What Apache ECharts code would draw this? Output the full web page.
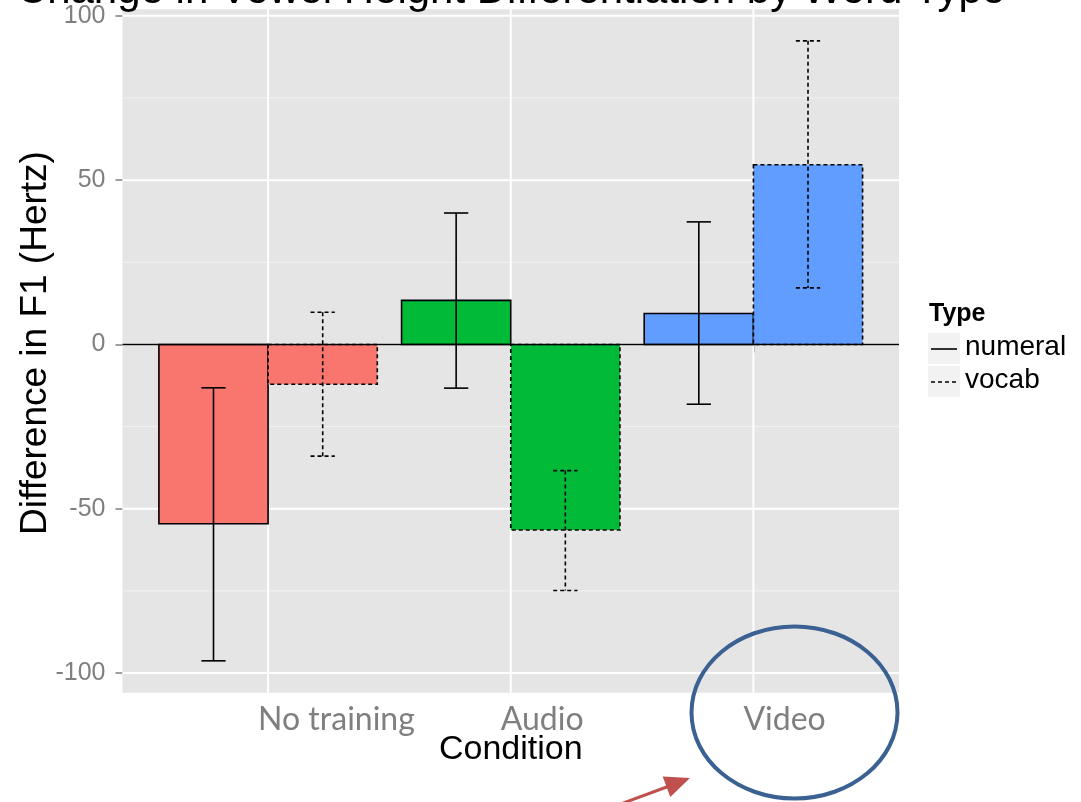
<!DOCTYPE html>
<html><head><meta charset="utf-8">
<script src="https://cdn.jsdelivr.net/npm/echarts@6/dist/echarts.min.js"></script>
<style>html,body{margin:0;padding:0;background:#fff}#c{width:1081px;height:802px}</style>
</head><body><div id="c"></div>
<script>
// ---- data ----
const conditions = ['No training', 'Audio', 'Video'];
const types = ['numeral', 'vocab'];
const numeralMean = [-54.6, 13.4, 9.4];
const numeralLow  = [-96.3, -13.3, -18.2];
const numeralHigh = [-13.2, 40.0, 37.3];
const vocabMean   = [-12.1, -56.5, 54.7];
const vocabLow    = [-34.0, -74.9, 17.2];
const vocabHigh   = [9.8, -38.4, 92.4];
const yTicks = [-100, -50, 0, 50, 100];
const yMinor = [-75, -25, 25, 75];
const xTicks = [1, 2, 3];
const titleText = 'Change in Vowel Height Differentiation by Word Type';
const xTitle = 'Condition';
const yTitle = 'Difference in F1 (Hertz)';
const legendTitle = 'Type';

// ---- style ----
const condColors = ['#F8766D', '#00BA38', '#619CFF'];
const DODGE = 0.45, CAP = 0.05;
const SANS = '"Liberation Sans", Arial, Helvetica, sans-serif';

const barData = [];
conditions.forEach((c, i) => {
  barData.push([i + 1, numeralMean[i], numeralLow[i], numeralHigh[i], 0, i]);
  barData.push([i + 1, vocabMean[i], vocabLow[i], vocabHigh[i], 1, i]);
});
const gridData = [];
yMinor.forEach(v => gridData.push([1, v, 0, 0]));
yTicks.forEach(v => gridData.push([1, v, 1, 0]));
xTicks.forEach(v => gridData.push([v, 0, 1, 1]));

const chart = echarts.init(document.getElementById('c'), null, {renderer: 'canvas'});

const option = {
  animation: false,
  backgroundColor: '#fff',
  grid: {left: 122.5, right: 182, top: 9.3, bottom: 109.3, show: true, backgroundColor: '#E5E5E5', borderWidth: 0},
  xAxis: {
    type: 'value', min: 0.4, max: 3.6,
    axisLine: {show: false},
    splitLine: {show: false},
    axisTick: {show: true, customValues: xTicks, length: 8, lineStyle: {color: '#7F7F7F', width: 1.5}},
    axisLabel: {
      customValues: xTicks,
      formatter: v => conditions[Math.round(v) - 1],
      align: 'left', padding: [0, 0, 0, -10],
      margin: 11,
      fontFamily: 'Lato, "Open Sans", sans-serif', fontSize: 32, color: '#7F7F7F'
    },
    name: xTitle, nameLocation: 'middle', nameGap: 40, nameMoveOverlap: false,
    nameTextStyle: {fontFamily: SANS, fontSize: 34, color: '#000'}
  },
  yAxis: {
    type: 'value', min: -106, max: 102,
    axisLine: {show: false},
    splitLine: {show: false},
    axisTick: {show: true, customValues: yTicks, length: 7, lineStyle: {color: '#7F7F7F', width: 1.5}},
    axisLabel: {customValues: yTicks, margin: 17, fontFamily: SANS, fontSize: 25, color: '#7F7F7F'},
    name: yTitle, nameLocation: 'middle', nameRotate: 90, nameGap: 68, nameMoveOverlap: false,
    nameTextStyle: {fontFamily: SANS, fontSize: 37, color: '#000', padding: [0, 0, 0, 16]}
  },
  series: [
    {
      type: 'custom', name: 'grid', z: 1, silent: true,
      data: gridData,
      renderItem: (params, api) => {
        const cs = params.coordSys;
        const major = api.value(2), vert = api.value(3);
        const col = major ? '#FFFFFF' : '#F2F2F2';
        const lw = major ? 2 : 1;
        if (vert) {
          const x = api.coord([api.value(0), 0])[0];
          return {type: 'line', shape: {x1: x, y1: cs.y, x2: x, y2: cs.y + cs.height}, style: {stroke: col, lineWidth: lw}};
        }
        const y = api.coord([1, api.value(1)])[1];
        return {type: 'line', shape: {x1: cs.x, y1: y, x2: cs.x + cs.width, y2: y}, style: {stroke: col, lineWidth: lw}};
      }
    },
    {
      type: 'custom', name: 'bars', z: 2, silent: true,
      data: barData,
      renderItem: (params, api) => {
        const x = api.value(0), m = api.value(1), lo = api.value(2), hi = api.value(3);
        const t = api.value(4), ci = api.value(5);
        const x0 = t === 0 ? x - DODGE : x;
        const x1 = x0 + DODGE, xc = x0 + DODGE / 2;
        const p0 = api.coord([x0, 0]), p1 = api.coord([x1, m]);
        const dash = t === 0 ? null : [4, 3];
        const top = api.coord([xc, hi]), bot = api.coord([xc, lo]);
        const cl = api.coord([xc - CAP, 0])[0], cr = api.coord([xc + CAP, 0])[0];
        const ls = {stroke: '#000', lineWidth: 1.6, lineDash: dash, fill: null};
        return {
          type: 'group',
          children: [
            {type: 'rect', shape: {x: p0[0], y: Math.min(p0[1], p1[1]), width: p1[0] - p0[0], height: Math.abs(p1[1] - p0[1])},
             style: {fill: condColors[ci], stroke: '#000', lineWidth: 1.6, lineDash: dash}},
            {type: 'line', shape: {x1: top[0], y1: top[1], x2: bot[0], y2: bot[1]}, style: ls},
            {type: 'line', shape: {x1: cl, y1: top[1], x2: cr, y2: top[1]}, style: ls},
            {type: 'line', shape: {x1: cl, y1: bot[1], x2: cr, y2: bot[1]}, style: ls}
          ]
        };
      }
    },
    {
      type: 'custom', name: 'hline', z: 3, silent: true,
      data: [[1, 0]],
      renderItem: (params, api) => {
        const cs = params.coordSys;
        const y = api.coord([1, api.value(1)])[1];
        return {type: 'line', shape: {x1: cs.x, y1: y, x2: cs.x + cs.width, y2: y}, style: {stroke: '#000', lineWidth: 1.6}};
      }
    }
  ],
  graphic: [
    {type: 'text', x: 511, y: -9, z: 10, style: {text: titleText, font: '42px ' + SANS, fill: '#000', textAlign: 'center', textVerticalAlign: 'middle'}},
    // legend
    {type: 'text', x: 929, y: 314, style: {text: legendTitle, font: 'bold 25px ' + SANS, fill: '#000', textAlign: 'left', textVerticalAlign: 'middle'}},
    {type: 'rect', shape: {x: 928, y: 333, width: 32, height: 31}, style: {fill: '#F2F2F2'}},
    {type: 'rect', shape: {x: 928, y: 366, width: 32, height: 31}, style: {fill: '#F2F2F2'}},
    {type: 'line', shape: {x1: 931, y1: 349, x2: 957, y2: 349}, style: {stroke: '#000', lineWidth: 1.6}},
    {type: 'line', shape: {x1: 931, y1: 382, x2: 957, y2: 382}, style: {stroke: '#000', lineWidth: 1.6, lineDash: [4, 3]}},
    {type: 'text', x: 965, y: 347, style: {text: types[0], font: '28px ' + SANS, fill: '#000', textAlign: 'left', textVerticalAlign: 'middle'}},
    {type: 'text', x: 965, y: 380, style: {text: types[1], font: '28px ' + SANS, fill: '#000', textAlign: 'left', textVerticalAlign: 'middle'}},
    // annotations
    {type: 'ellipse', z: 20, shape: {cx: 794.5, cy: 712.5, rx: 103, ry: 86}, style: {fill: null, stroke: '#3A6191', lineWidth: 4}},
    {type: 'line', z: 20, shape: {x1: 618, y1: 805, x2: 668, y2: 786.5}, style: {stroke: '#C0504D', lineWidth: 3}},
    {type: 'polygon', z: 20, shape: {points: [[690, 778], [670.3, 797], [662.7, 776.4]]}, style: {fill: '#C0504D'}}
  ]
};
chart.setOption(option);
</script>
</body></html>
